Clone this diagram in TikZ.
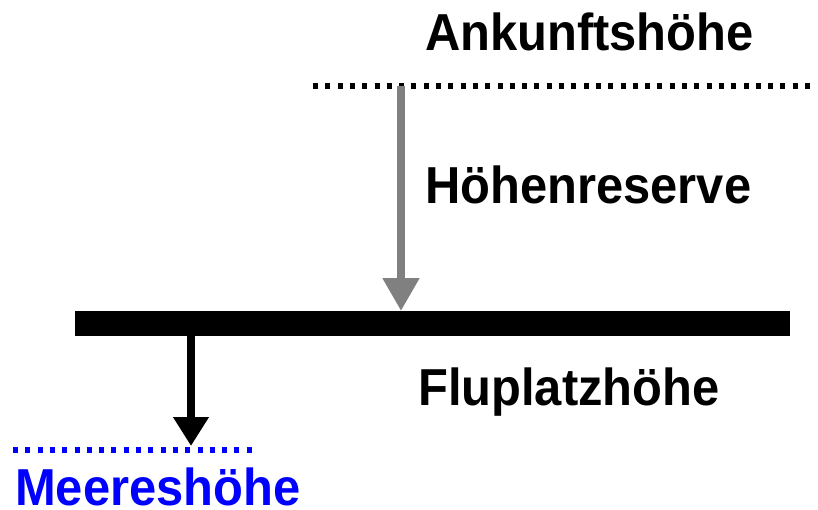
\documentclass[tikz,border=0pt]{standalone}
\usepackage{fontspec}
\setmainfont{Liberation Sans}
\usetikzlibrary{arrows.meta}
\definecolor{reservegray}{RGB}{128,128,128}
\tikzset{
  label/.style={inner sep=0pt, anchor=base west, xscale=0.94, transform shape,
    font=\fontsize{52}{52}\bfseries\selectfont},
  levelline/.style={line width=6pt, dash pattern=on 5pt off 7.3pt},
}
\begin{document}
\begin{tikzpicture}[x=1pt,y=-1pt]
  \useasboundingbox (0,0) rectangle (818,509);
  % heights as dotted levels
  \coordinate (arrTop) at (401,86);
  \draw[levelline] (313,86) -- (816,86);
  \draw[levelline, blue] (13,450) -- (258,450);
  % airfield level bar
  \node[fill=black, minimum width=715pt, minimum height=25pt, inner sep=0pt, anchor=north west] (bar) at (75,311) {};
  \coordinate (seaTip) at (191,446);
  % arrows
  \draw[reservegray, line width=8pt, -{Triangle[width=35pt,length=33pt]}] (arrTop) -- (arrTop |- bar.north);
  \draw[black, line width=8pt, -{Triangle[width=34pt,length=29pt]}] (seaTip |- bar.south) -- (seaTip);
  % labels
  \node[label] (ank) at (425,50) {Ankunftshöhe};
  \node[label] (res) at (425,203) {Höhenreserve};
  \node[label] (flp) at (418,405) {Fluplatzhöhe};
  \node[label, text=blue] (sea) at (15,505) {Meereshöhe};
\end{tikzpicture}
\end{document}
